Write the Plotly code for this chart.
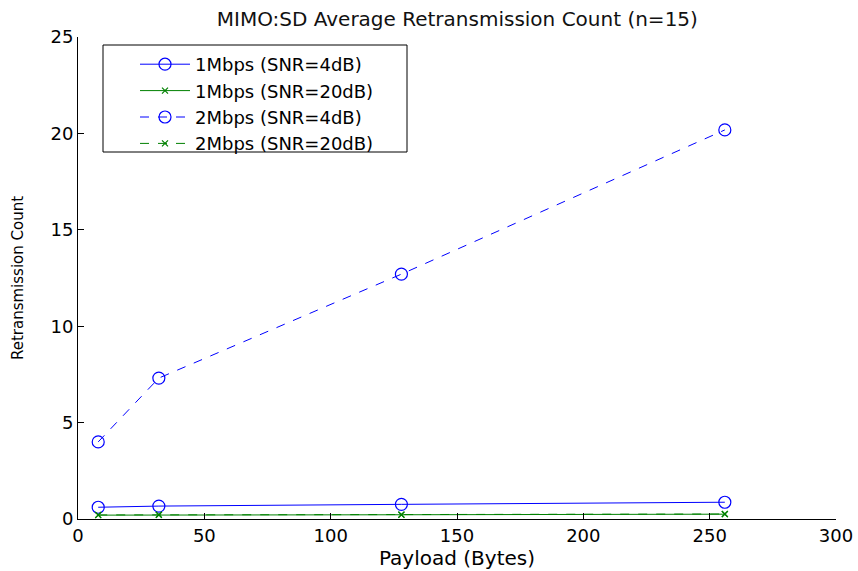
import plotly.graph_objects as go

payload = [8, 32, 128, 256]
r1_4db = [0.61, 0.67, 0.76, 0.87]
r1_20db = [0.20, 0.21, 0.22, 0.25]
r2_4db = [4.0, 7.31, 12.7, 20.18]
r2_20db = [0.21, 0.22, 0.23, 0.26]

names = ["1Mbps (SNR=4dB)", "1Mbps (SNR=20dB)", "2Mbps (SNR=4dB)", "2Mbps (SNR=20dB)"]
x_ticks = [0, 50, 100, 150, 200, 250, 300]
y_ticks = [0, 5, 10, 15, 20, 25]

BLUE = "#0000FF"
GREEN = "#008000"

fig = go.Figure()
series = [
    (r1_4db, BLUE, "solid", "circle-open", 12),
    (r1_20db, GREEN, "solid", "x-thin-open", 6),
    (r2_4db, BLUE, "dash", "circle-open", 12),
    (r2_20db, GREEN, "dash", "x-thin-open", 6),
]
for (vals, col, dash, sym, sz), nm in zip(series, names):
    fig.add_trace(go.Scatter(
        x=payload, y=vals, name=nm, mode="lines+markers",
        line=dict(color=col, width=1, dash=dash),
        marker=dict(symbol=sym, size=sz, color=col, line=dict(color=col, width=1.2)),
    ))

font = "DejaVu Sans, sans-serif"
L, R, T, B = 78, 22, 37, 52
PW, PH = 858 - L - R, 571 - T - B

def px_x(p):
    return (p - L) / PW

def px_y(p):
    return (571 - B - p) / PH

fig.update_layout(
    template="none",
    width=858, height=571,
    margin=dict(l=L, r=R, t=T, b=B),
    paper_bgcolor="white", plot_bgcolor="white",
    font=dict(family=font, size=18, color="black"),
    title=dict(text="MIMO:SD Average Retransmission Count (n=15)", x=0.533, xanchor="center",
               y=0.967, yanchor="middle", font=dict(size=20, color="#111")),
    xaxis=dict(range=[0, 300], tickvals=x_ticks, ticks="inside", ticklen=6, tickcolor="black",
               showline=True, linecolor="black", linewidth=1, showgrid=False, zeroline=False,
               automargin=False,
               title=dict(text="Payload (Bytes)", standoff=6, font=dict(size=20)),
               tickfont=dict(size=18)),
    yaxis=dict(range=[0, 25], tickvals=y_ticks, ticks="inside", ticklen=6, tickcolor="black",
               showline=True, linecolor="black", linewidth=1, showgrid=False, zeroline=False,
               automargin=False,
               title=dict(text="Retransmission Count", standoff=23, font=dict(size=15)),
               tickfont=dict(size=18)),
    legend=dict(x=px_x(135), y=px_y(46), xanchor="left", yanchor="top",
                borderwidth=0, bgcolor="rgba(0,0,0,0)", itemwidth=50,
                font=dict(size=18), tracegroupgap=0),
    shapes=[dict(type="rect", xref="paper", yref="paper",
                 x0=px_x(103), x1=px_x(407), y0=px_y(152), y1=px_y(45),
                 line=dict(color="black", width=1), fillcolor="white", layer="below")],
    showlegend=True,
)
fig.write_html("out.html")
